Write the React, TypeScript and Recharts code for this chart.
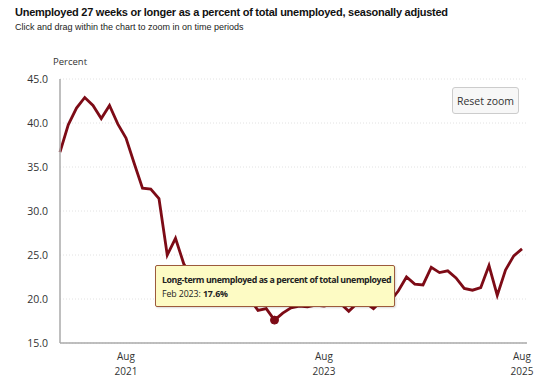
import React from 'react';
import { LineChart, Line, XAxis, YAxis, CartesianGrid, Tooltip } from 'recharts';

const MONTHS = [
  'Dec 2020',
  'Jan 2021', 'Feb 2021', 'Mar 2021', 'Apr 2021', 'May 2021', 'Jun 2021', 'Jul 2021', 'Aug 2021', 'Sep 2021', 'Oct 2021', 'Nov 2021', 'Dec 2021',
  'Jan 2022', 'Feb 2022', 'Mar 2022', 'Apr 2022', 'May 2022', 'Jun 2022', 'Jul 2022', 'Aug 2022', 'Sep 2022', 'Oct 2022', 'Nov 2022', 'Dec 2022',
  'Jan 2023', 'Feb 2023', 'Mar 2023', 'Apr 2023', 'May 2023', 'Jun 2023', 'Jul 2023', 'Aug 2023', 'Sep 2023', 'Oct 2023', 'Nov 2023', 'Dec 2023',
  'Jan 2024', 'Feb 2024', 'Mar 2024', 'Apr 2024', 'May 2024', 'Jun 2024', 'Jul 2024', 'Aug 2024', 'Sep 2024', 'Oct 2024', 'Nov 2024', 'Dec 2024',
  'Jan 2025', 'Feb 2025', 'Mar 2025', 'Apr 2025', 'May 2025', 'Jun 2025', 'Jul 2025', 'Aug 2025',
];

const LONG_TERM_SHARE = [
  36.7,
  39.8, 41.7, 42.9, 42.0, 40.5, 42.0, 39.9, 38.3, 35.4, 32.6, 32.5, 31.4,
  25.0, 26.9, 24.0, 22.4, 23.1, 21.5, 22.3, 21.2, 21.8, 20.4, 20.0, 18.7,
  18.9, 17.6, 18.4, 19.0, 19.2, 19.1, 19.3, 19.2, 19.4, 19.5, 18.6, 19.5,
  19.6, 18.9, 19.8, 19.7, 20.9, 22.5, 21.7, 21.6, 23.6, 23.0, 23.2, 22.4,
  21.2, 21.0, 21.3, 23.8, 20.4, 23.3, 24.9, 25.7,
];

const X_TICKS = ['Aug 2021', 'Aug 2023', 'Aug 2025'];
const Y_TICKS = [15, 20, 25, 30, 35, 40, 45];
const SERIES_NAME = 'Long-term unemployed as a percent of total unemployed';
const TOOLTIP_INDEX = 26;

const data = MONTHS.map((m, i) => ({ month: m, value: LONG_TERM_SHARE[i] }));

const FONT = '"Open Sans", "DejaVu Sans", sans-serif';
const LINE_COLOR = '#7d0b16';

const XTick = (props: any) => {
  const { x, y, payload } = props;
  const [mon, yr] = String(payload.value).split(' ');
  return (
    <g>
      <text x={x} y={y + 9} textAnchor="middle" fontSize={10} fill="#333" fontFamily={FONT}>{mon}</text>
      <text x={x} y={y + 24} textAnchor="middle" fontSize={10} fill="#333" fontFamily={FONT}>{yr}</text>
    </g>
  );
};

const TipContent = (props: any) => {
  const { active, payload } = props;
  if (!active || !payload || !payload.length) return null;
  const p = payload[0];
  return (
    <div
      style={{
        position: 'relative',
        width: 238,
        height: 40,
        background: '#fdfbc4',
        border: '1px solid #9c5a3c',
        borderRadius: 2,
        fontFamily: FONT,
        fontSize: 8.8,
        color: '#222',
        boxSizing: 'content-box',
        boxShadow: '1px 1px 2px rgba(0,0,0,0.15)',
      }}
    >
      <div style={{ position: 'absolute', left: 6, top: 8, fontWeight: 700, whiteSpace: 'nowrap', letterSpacing: -0.4 }}>{SERIES_NAME}</div>
      <div style={{ position: 'absolute', left: 6, top: 22, whiteSpace: 'nowrap', letterSpacing: -0.1 }}>
        {p.payload.month}: <b>{Number(p.value).toFixed(1)}%</b>
      </div>
    </div>
  );
};

export default function App() {
  return (
    <div style={{ position: 'absolute', left: 0, top: 0, width: 554, height: 378, background: '#fff', overflow: 'hidden' }}>
      <div style={{ position: 'absolute', left: 15, top: 7, fontFamily: '"Liberation Sans", Arial, sans-serif', fontWeight: 700, fontSize: 11, lineHeight: '11px', letterSpacing: -0.25, color: '#111', whiteSpace: 'nowrap' }}>
        Unemployed 27 weeks or longer as a percent of total unemployed, seasonally adjusted
      </div>
      <div style={{ position: 'absolute', left: 15, top: 23, fontFamily: '"Liberation Sans", Arial, sans-serif', fontSize: 9, lineHeight: '9px', color: '#222', whiteSpace: 'nowrap' }}>
        Click and drag within the chart to zoom in on time periods
      </div>
      <div style={{ position: 'absolute', left: 53, top: 57, fontFamily: FONT, fontSize: 9.5, lineHeight: '10px', color: '#333' }}>Percent</div>
      <div style={{ position: 'absolute', left: 0, top: 0 }}>
        <LineChart width={554} height={378} data={data} margin={{ top: 79, right: 27, bottom: 5, left: 0 }}>
          <CartesianGrid vertical={false} stroke="#e2e2e2" strokeDasharray="1 2" />
          <XAxis
            dataKey="month"
            ticks={X_TICKS}
            interval={0}
            tick={<XTick />}
            tickLine={false}
            axisLine={{ stroke: '#aaa', strokeWidth: 1.5 }}
            height={30}
            padding={{ left: 0, right: 5 }}
          />
          <YAxis
            domain={[15, 45]}
            ticks={Y_TICKS}
            tickFormatter={(v: number) => v.toFixed(1)}
            tick={{ fontSize: 10.5, fill: '#333', fontFamily: FONT }}
            tickLine={false}
            tickMargin={6}
            axisLine={{ stroke: '#aaa', strokeWidth: 1.5 }}
            width={60}
          />
          <Tooltip
            active
            defaultIndex={TOOLTIP_INDEX}
            cursor={false}
            position={{ x: 155, y: 265 }}
            content={<TipContent />}
            isAnimationActive={false}
            wrapperStyle={{ outline: 'none' }}
          />
          <Line
            type="linear"
            dataKey="value"
            stroke={LINE_COLOR}
            strokeWidth={2.8}
            dot={false}
            activeDot={{ r: 4, fill: LINE_COLOR, stroke: LINE_COLOR, strokeWidth: 1 }}
            isAnimationActive={false}
          />
        </LineChart>
      </div>
      <div
        style={{
          position: 'absolute', left: 452, top: 87, width: 65, height: 25,
          background: '#f7f7f7', border: '1px solid #cccccc', borderRadius: 3,
          fontFamily: FONT, fontSize: 10.5, color: '#333', display: 'flex',
          alignItems: 'center', justifyContent: 'center', whiteSpace: 'nowrap',
        }}
      >
        Reset zoom
      </div>
    </div>
  );
}
